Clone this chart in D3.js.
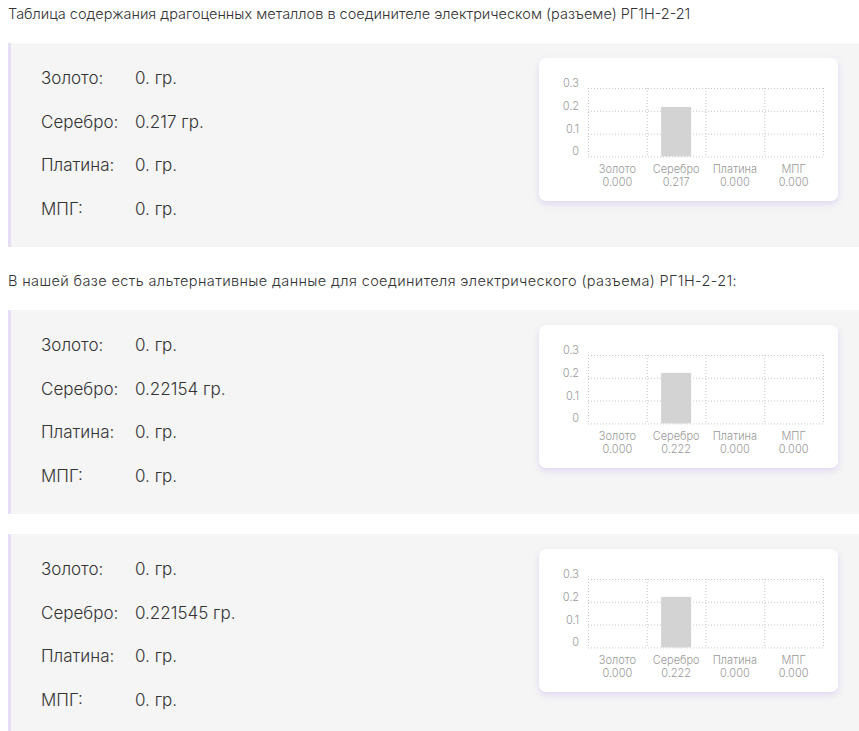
<!DOCTYPE html>
<html><head><meta charset="utf-8">
<script src="https://cdn.jsdelivr.net/npm/d3@7/dist/d3.min.js"></script>
<style>
body{margin:0;background:#fff;font-family:Inter,"Noto Sans",sans-serif;color:#333;width:859px;height:731px;overflow:hidden;position:relative}
.t{position:absolute;left:8px;font-size:14.5px;font-weight:300;color:#333;white-space:nowrap}
.panel{position:absolute;left:8px;right:0;height:204px;background:#f5f5f5;border-left:3px solid #e6def4;box-sizing:border-box}
.row{position:absolute;left:30px;font-size:17px;font-weight:300;color:#333;white-space:nowrap}
.row .v{position:absolute;left:94px}
.card{position:absolute;left:528px;top:15px;width:299px;height:143px;background:#fff;border-radius:7px;box-shadow:0 3px 6px rgba(170,140,230,0.28)}
</style></head><body>
<script>
const title1 = "Таблица содержания драгоценных металлов в соединителе электрическом (разъеме) РГ1Н-2-21";
const title2 = "В нашей базе есть альтернативные данные для соединителя электрического (разъема) РГ1Н-2-21:";
const metals = ["Золото", "Серебро", "Платина", "МПГ"];
const valueTexts1 = ["0.", "0.217", "0.", "0."];
const valueTexts2 = ["0.", "0.22154", "0.", "0."];
const valueTexts3 = ["0.", "0.221545", "0.", "0."];
const values1 = [0, 0.217, 0, 0];
const values2 = [0, 0.22154, 0, 0];
const values3 = [0, 0.221545, 0, 0];
const yTicks = [0, 0.1, 0.2, 0.3];
const unit = "гр.";

const body = d3.select("body");
body.append("div").attr("class","t").style("top","5px").text(title1);
body.append("div").attr("class","t").style("top","272px").style("letter-spacing","0.38px").text(title2);

const panels = [
  {top:43, texts:valueTexts1, vals:values1},
  {top:310, texts:valueTexts2, vals:values2},
  {top:534, texts:valueTexts3, vals:values3}
];

panels.forEach(p => {
  const panel = body.append("div").attr("class","panel").style("top", p.top+"px");
  metals.forEach((m,i) => {
    const r = panel.append("div").attr("class","row").style("top",(25 + i*43.7)+"px");
    r.append("span").text(m + ":");
    r.append("span").attr("class","v").text(p.texts[i] + " " + unit);
  });
  const card = panel.append("div").attr("class","card");
  const W = 299, H = 143;
  const svg = card.append("svg").attr("width",W).attr("height",H).style("display","block");
  const x = d3.scaleBand().domain(metals).range([49,284]).paddingInner(0).paddingOuter(0);
  const y = d3.scaleLinear().domain([0,0.3]).range([98.4,30]);
  const g = svg.append("g");
  g.selectAll("line.h").data(yTicks).join("line")
    .attr("x1",x.range()[0]).attr("x2",x.range()[1])
    .attr("y1",d=>y(d)+0.5).attr("y2",d=>y(d)+0.5)
    .attr("stroke","#c8c8c8").attr("stroke-dasharray","1,2");
  const vx = metals.map(m=>x(m)).concat([x.range()[1]]);
  g.selectAll("line.v").data(vx).join("line")
    .attr("x1",d=>d+0.5).attr("x2",d=>d+0.5)
    .attr("y1",y(0.3)).attr("y2",y(0))
    .attr("stroke","#c8c8c8").attr("stroke-dasharray","1,2");
  g.selectAll("rect").data(p.vals).join("rect")
    .attr("x",(d,i)=>x(metals[i]) + x.bandwidth()/2 - 15)
    .attr("width",30)
    .attr("y",d=>y(d)).attr("height",d=>y(0)-y(d))
    .attr("fill","#d3d3d3");
  g.selectAll("text.yt").data(yTicks).join("text")
    .attr("x",40).attr("y",d=>y(d)-1)
    .attr("text-anchor","end").attr("font-size",11).attr("font-weight",300).attr("fill","#999")
    .attr("font-family","Inter, sans-serif")
    .text(d=>d3.format("~g")(d));
  const cl = g.selectAll("text.c").data(metals).join("text")
    .attr("text-anchor","middle").attr("font-size",11).attr("font-weight",300).attr("fill","#999")
    .attr("font-family","Inter, sans-serif");
  cl.append("tspan").attr("x",m=>x(m)+x.bandwidth()/2).attr("y",115).text(m=>m);
  cl.append("tspan").attr("x",m=>x(m)+x.bandwidth()/2).attr("y",127.5).text((m,i)=>d3.format(".3f")(p.vals[i]));
});
</script>
</body></html>
